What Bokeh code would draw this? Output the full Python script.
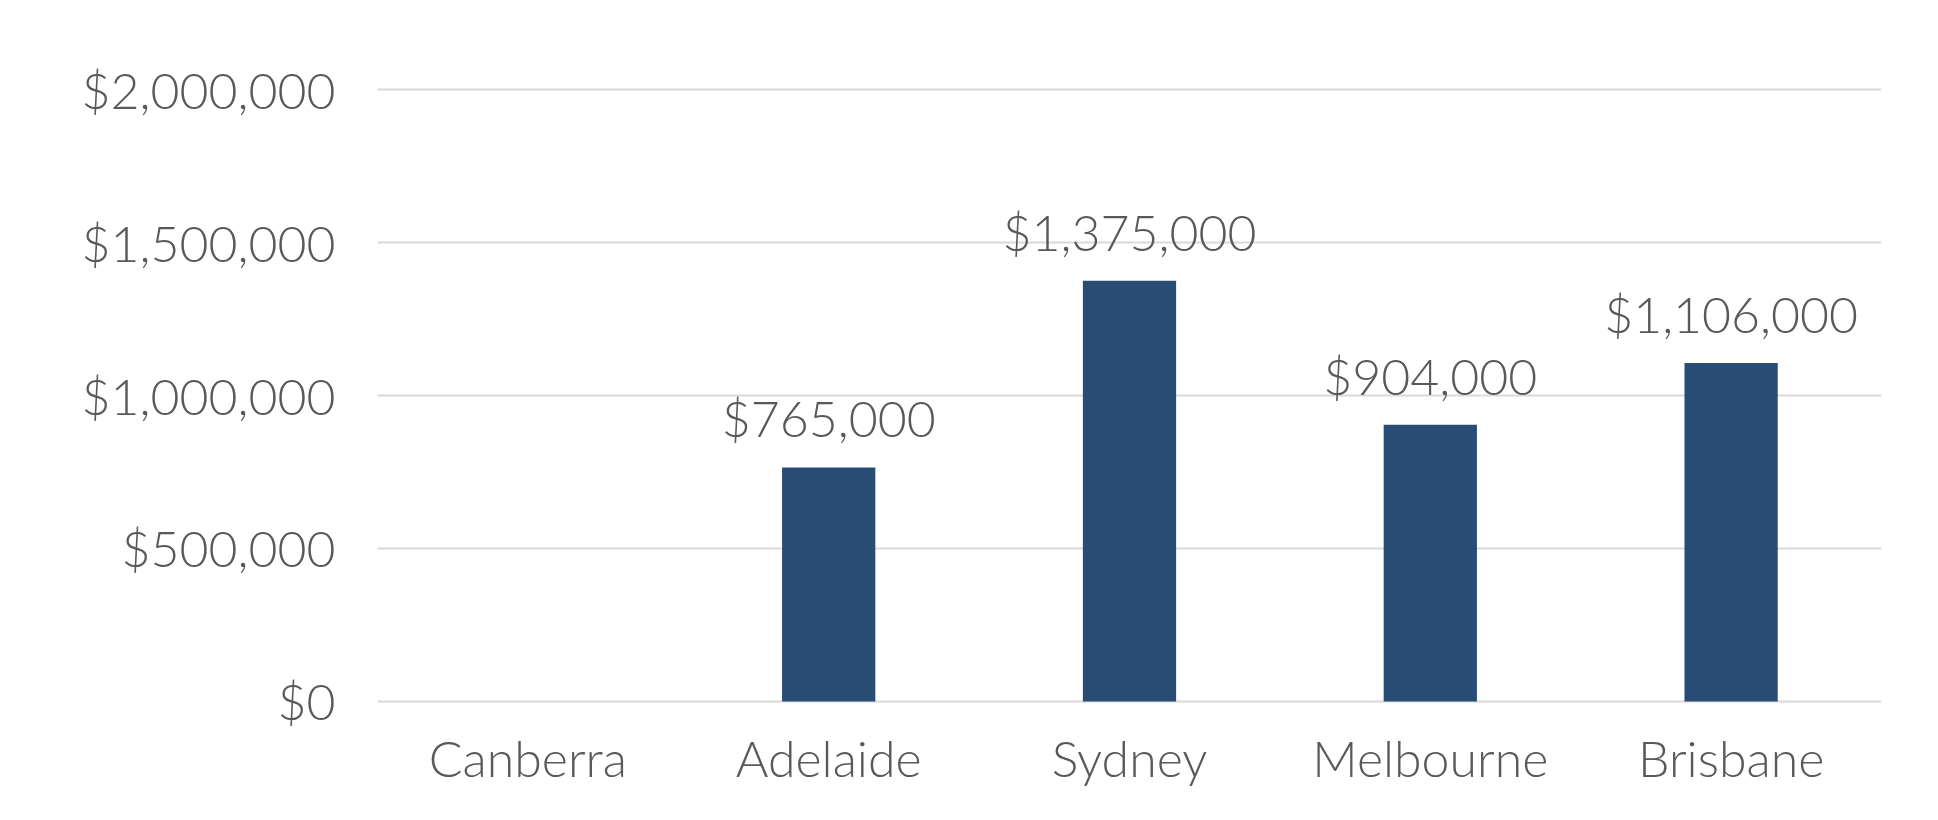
from bokeh.plotting import figure
from bokeh.models import ColumnDataSource, FixedTicker, NumeralTickFormatter, LabelSet, Range1d
from bokeh.core.properties import value
from bokeh.embed import file_html
from bokeh.resources import INLINE

cities = ["Canberra", "Adelaide", "Sydney", "Melbourne", "Brisbane"]
prices = [0, 765000, 1375000, 904000, 1106000]
y_ticks = [0, 500000, 1000000, 1500000, 2000000]

FONT = "Lato Light, Lato"
TXT = "#595959"

src = ColumnDataSource(dict(city=cities, price=prices))
lab_src = ColumnDataSource(dict(
    city=[c for c, v in zip(cities, prices) if v > 0],
    price=[v for v in prices if v > 0],
    text=["${:,}".format(v) for v in prices if v > 0],
))

p = figure(x_range=cities, y_range=Range1d(-20000, 2020000), width=1920, height=804,
           output_backend="svg", toolbar_location=None,
           min_border_left=377, min_border_right=39, min_border_top=83, min_border_bottom=97)
p.outline_line_color = None

p.vbar(x="city", top="price", width=0.31, bottom=0, source=src, color="#294c74", line_color=None)

labels = LabelSet(x="city", y="price", text="text", source=lab_src, text_align="center",
                  text_baseline="alphabetic", y_offset=30, text_font_size="50px",
                  text_color=TXT, text_font=value(FONT))
p.add_layout(labels)

p.yaxis.ticker = FixedTicker(ticks=y_ticks)
p.yaxis.formatter = NumeralTickFormatter(format="$0,0")
for ax in (p.xaxis[0], p.yaxis[0]):
    ax.axis_line_color = None
    ax.major_tick_line_color = None
    ax.minor_tick_line_color = None
    ax.major_label_text_font = FONT
    ax.major_label_text_font_size = "50px"
    ax.major_label_text_color = TXT
p.yaxis.major_label_standoff = 36
p.xaxis.major_label_standoff = 14

p.xgrid.grid_line_color = None
p.ygrid.grid_line_color = "#d9d9d9"
p.ygrid.grid_line_width = 2

open("out.html", "w").write(file_html(p, INLINE))
